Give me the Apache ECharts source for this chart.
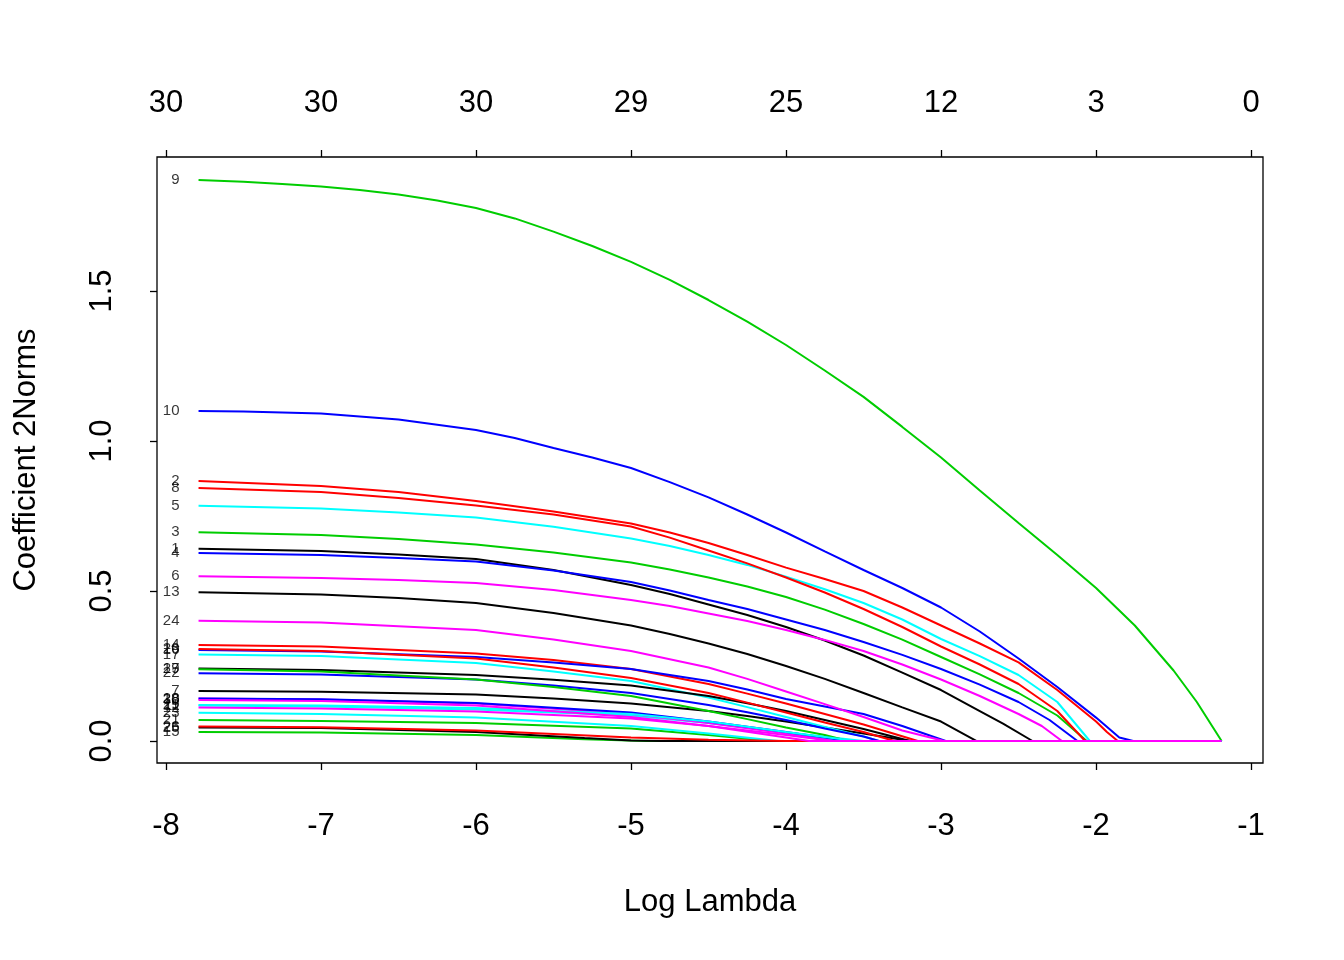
<!DOCTYPE html>
<html>
<head>
<meta charset="utf-8">
<script src="https://cdn.jsdelivr.net/npm/echarts@6/dist/echarts.min.js"></script>
<style>html,body{margin:0;padding:0;background:#fff}#chart{width:1344px;height:960px}</style>
</head>
<body>
<div id="chart"></div>
<script>
// x-axis ticks (log lambda) and top-axis degrees of freedom
const xTicks = [-8, -7, -6, -5, -4, -3, -2, -1];
const dfLabels = ['30', '30', '30', '29', '25', '12', '3', '0'];
const yTicks = [0, 0.5, 1.0, 1.5];
const palette = ['#000000', '#FF0000', '#00CD00', '#0000FF', '#00FFFF', '#FF00FF'];

// coefficient 2-norm paths: [log lambda, norm]
const v1 = [[-7.79,0.641],[-7,0.633],[-6.5,0.622],[-6,0.607],[-5.5,0.57],[-5,0.52],[-4.75,0.49],[-4.5,0.455],[-4.25,0.42],[-4,0.38],[-3.75,0.335],[-3.5,0.285],[-3.25,0.228],[-3,0.17],[-2.75,0.1],[-2.6,0.058],[-2.41,0],[-1.19,0]];
const v2 = [[-7.79,0.867],[-7,0.85],[-6.5,0.83],[-6,0.80],[-5.5,0.765],[-5,0.725],[-4.75,0.695],[-4.5,0.66],[-4.25,0.62],[-4,0.578],[-3.75,0.54],[-3.5,0.5],[-3.25,0.445],[-3,0.385],[-2.75,0.325],[-2.5,0.262],[-2.25,0.17],[-2,0.065],[-1.93,0.03],[-1.86,0],[-1.19,0]];
const v3 = [[-7.79,0.696],[-7,0.687],[-6.5,0.673],[-6,0.655],[-5.5,0.628],[-5,0.595],[-4.75,0.572],[-4.5,0.545],[-4.25,0.515],[-4,0.48],[-3.75,0.438],[-3.5,0.39],[-3.25,0.338],[-3,0.28],[-2.75,0.222],[-2.5,0.16],[-2.25,0.085],[-2.06,0],[-1.19,0]];
const v4 = [[-7.79,0.627],[-7,0.62],[-6.5,0.61],[-6,0.598],[-5.5,0.568],[-5,0.53],[-4.75,0.502],[-4.5,0.47],[-4.25,0.44],[-4,0.405],[-3.75,0.37],[-3.5,0.33],[-3.25,0.287],[-3,0.24],[-2.75,0.188],[-2.5,0.13],[-2.3,0.07],[-2.12,0],[-1.19,0]];
const v5 = [[-7.79,0.784],[-7,0.775],[-6.5,0.762],[-6,0.745],[-5.5,0.714],[-5,0.675],[-4.75,0.65],[-4.5,0.62],[-4.25,0.587],[-4,0.548],[-3.75,0.506],[-3.5,0.46],[-3.25,0.405],[-3,0.34],[-2.75,0.283],[-2.5,0.22],[-2.25,0.13],[-2.04,0],[-1.19,0]];
const v6 = [[-7.79,0.549],[-7,0.543],[-6.5,0.537],[-6,0.527],[-5.5,0.503],[-5,0.47],[-4.75,0.45],[-4.5,0.425],[-4.25,0.4],[-4,0.37],[-3.75,0.337],[-3.5,0.3],[-3.25,0.255],[-3,0.205],[-2.75,0.15],[-2.5,0.09],[-2.35,0.05],[-2.22,0],[-1.19,0]];
const v7 = [[-7.79,0.167],[-7,0.164],[-6,0.155],[-5.5,0.142],[-5,0.125],[-4.5,0.1],[-4.25,0.083],[-4,0.065],[-3.75,0.045],[-3.5,0.025],[-3.2,0],[-1.19,0]];
const v8 = [[-7.79,0.843],[-7,0.83],[-6.5,0.81],[-6,0.785],[-5.5,0.755],[-5,0.715],[-4.75,0.678],[-4.5,0.635],[-4.25,0.592],[-4,0.545],[-3.75,0.495],[-3.5,0.44],[-3.25,0.38],[-3,0.315],[-2.75,0.255],[-2.5,0.19],[-2.25,0.1],[-2.07,0],[-1.19,0]];
const v9 = [[-7.79,1.87],[-7.5,1.864],[-7.25,1.857],[-7,1.848],[-6.75,1.837],[-6.5,1.822],[-6.25,1.802],[-6,1.777],[-5.75,1.742],[-5.5,1.698],[-5.25,1.65],[-5,1.597],[-4.75,1.537],[-4.5,1.47],[-4.25,1.398],[-4,1.32],[-3.75,1.235],[-3.5,1.147],[-3.25,1.047],[-3,0.945],[-2.75,0.835],[-2.5,0.727],[-2.25,0.62],[-2,0.51],[-1.75,0.385],[-1.5,0.235],[-1.35,0.13],[-1.19,0]];
const v10 = [[-7.79,1.10],[-7.5,1.098],[-7,1.092],[-6.5,1.072],[-6,1.037],[-5.75,1.01],[-5.5,0.977],[-5.25,0.945],[-5,0.91],[-4.75,0.863],[-4.5,0.812],[-4.25,0.755],[-4,0.695],[-3.75,0.632],[-3.5,0.57],[-3.25,0.51],[-3,0.445],[-2.75,0.365],[-2.5,0.275],[-2.25,0.18],[-2,0.078],[-1.85,0.012],[-1.76,0],[-1.19,0]];
const v11 = [[-7.79,0.118],[-7,0.115],[-6,0.105],[-5,0.085],[-4.5,0.06],[-4,0.028],[-3.5,0],[-1.19,0]];
const v12 = [[-7.79,0.112],[-7,0.108],[-6,0.098],[-5,0.075],[-4.5,0.05],[-4,0.02],[-3.7,0],[-1.19,0]];
const v13 = [[-7.79,0.496],[-7,0.488],[-6.5,0.477],[-6,0.46],[-5.5,0.427],[-5,0.385],[-4.75,0.357],[-4.5,0.325],[-4.25,0.29],[-4,0.25],[-3.75,0.207],[-3.5,0.16],[-3.25,0.112],[-3,0.065],[-2.77,0],[-1.19,0]];
const v14 = [[-7.79,0.32],[-7,0.315],[-6,0.292],[-5.5,0.27],[-5,0.24],[-4.5,0.19],[-4.25,0.158],[-4,0.125],[-3.75,0.09],[-3.5,0.055],[-3.15,0],[-1.19,0]];
const v15 = [[-7.79,0.03],[-7,0.028],[-6,0.02],[-5.3,0.006],[-4.9,0],[-1.19,0]];
const v16 = [[-7.79,0.303],[-7,0.298],[-6,0.28],[-5.5,0.262],[-5,0.24],[-4.5,0.2],[-4.25,0.172],[-4,0.14],[-3.75,0.115],[-3.5,0.09],[-3.25,0.05],[-2.97,0],[-1.19,0]];
const v17 = [[-7.79,0.288],[-7,0.283],[-6,0.26],[-5.5,0.232],[-5,0.2],[-4.5,0.145],[-4.25,0.113],[-4,0.08],[-3.75,0.047],[-3.5,0.015],[-3.4,0],[-1.19,0]];
const v18 = [[-7.79,0.142],[-7,0.138],[-6,0.125],[-5,0.09],[-4.5,0.06],[-4,0.025],[-3.7,0],[-1.19,0]];
const v19 = [[-7.79,0.242],[-7,0.237],[-6,0.22],[-5.5,0.204],[-5,0.185],[-4.5,0.15],[-4.25,0.126],[-4,0.1],[-3.75,0.07],[-3.5,0.04],[-3.2,0],[-1.19,0]];
const v20 = [[-7.79,0.307],[-7,0.3],[-6,0.275],[-5.5,0.245],[-5,0.21],[-4.5,0.16],[-4.25,0.128],[-4,0.095],[-3.75,0.062],[-3.5,0.03],[-3.3,0],[-1.19,0]];
const v21 = [[-7.79,0.07],[-7,0.067],[-6,0.06],[-5,0.042],[-4.5,0.02],[-4.1,0],[-1.19,0]];
const v22 = [[-7.79,0.226],[-7,0.222],[-6,0.205],[-5.5,0.185],[-5,0.16],[-4.5,0.12],[-4.25,0.096],[-4,0.07],[-3.75,0.042],[-3.5,0.015],[-3.4,0],[-1.19,0]];
const v23 = [[-7.79,0.094],[-7,0.09],[-6,0.078],[-5,0.05],[-4.5,0.025],[-4.05,0],[-1.19,0]];
const v24 = [[-7.79,0.401],[-7,0.395],[-6,0.37],[-5.5,0.338],[-5,0.3],[-4.5,0.245],[-4.25,0.207],[-4,0.165],[-3.75,0.123],[-3.5,0.08],[-3.25,0.035],[-2.98,0],[-1.19,0]];
const v25 = [[-7.79,0.045],[-7,0.043],[-6,0.03],[-5.3,0.01],[-5,0.002],[-4.8,0],[-1.19,0]];
const v26 = [[-7.79,0.048],[-7,0.046],[-6,0.035],[-5,0.012],[-4.5,0.004],[-4,0],[-1.19,0]];
const v27 = [[-7.79,0.239],[-7,0.232],[-6,0.205],[-5.5,0.18],[-5,0.15],[-4.5,0.1],[-4.25,0.073],[-4,0.045],[-3.75,0.02],[-3.6,0],[-1.19,0]];
const v28 = [[-7.79,0.142],[-7,0.139],[-6,0.127],[-5,0.095],[-4.5,0.065],[-4,0.03],[-3.6,0],[-1.19,0]];
const v29 = [[-7.79,0.12],[-7,0.118],[-6,0.11],[-5,0.09],[-4.5,0.065],[-4,0.03],[-3.55,0],[-1.19,0]];
const v30 = [[-7.79,0.137],[-7,0.133],[-6,0.118],[-5,0.08],[-4.5,0.05],[-4,0.012],[-3.85,0],[-1.19,0]];

const paths = [v1,v2,v3,v4,v5,v6,v7,v8,v9,v10,v11,v12,v13,v14,v15,v16,v17,v18,v19,v20,v21,v22,v23,v24,v25,v26,v27,v28,v29,v30];

const FONT = 'Liberation Sans, Arial, Helvetica, sans-serif';
const chart = echarts.init(document.getElementById('chart'), null, {renderer: 'canvas'});

const lineSeries = paths.map((p, i) => ({
  type: 'line',
  name: String(i + 1),
  data: p,
  showSymbol: false,
  symbol: 'none',
  smooth: false,
  clip: true,
  lineStyle: {color: palette[i % 6], width: 2},
  z: 2,
  silent: true,
  animation: false
}));

const labelSeries = {
  type: 'scatter',
  symbolSize: 0,
  silent: true,
  animation: false,
  data: paths.map((p, i) => ({value: p[0], name: String(i + 1)})),
  label: {
    show: true,
    position: 'left',
    distance: 19,
    formatter: (d) => d.name,
    color: '#000',
    fontSize: 15,
    fontFamily: FONT
  },
  z: 3
};

const tickStyle = {show: true, length: 7, lineStyle: {color: '#000', width: 1.3}};

chart.setOption({
  backgroundColor: '#ffffff',
  animation: false,
  grid: {left: 157, right: 81, top: 157, bottom: 197, show: true, borderColor: '#000', borderWidth: 1.3, backgroundColor: 'transparent'},
  xAxis: [
    {
      type: 'value', position: 'bottom', min: -8.058, max: -0.923,
      axisLine: {show: false, onZero: false},
      splitLine: {show: false},
      axisTick: Object.assign({customValues: xTicks}, tickStyle),
      axisLabel: {customValues: xTicks, margin: 48, color: '#000', fontSize: 31, fontFamily: FONT, formatter: (v) => String(v)},
      name: 'Log Lambda', nameLocation: 'middle', nameGap: 124,
      nameTextStyle: {color: '#000', fontSize: 31, fontFamily: FONT}
    },
    {
      type: 'value', position: 'top', min: -8.058, max: -0.923,
      axisLine: {show: false, onZero: false},
      splitLine: {show: false},
      axisTick: Object.assign({customValues: xTicks}, tickStyle),
      axisLabel: {customValues: xTicks, margin: 38, color: '#000', fontSize: 31, fontFamily: FONT,
        formatter: (v) => { const k = xTicks.findIndex(t => Math.abs(t - v) < 1e-6); return k >= 0 ? dfLabels[k] : ''; }}
    }
  ],
  yAxis: {
    type: 'value', min: -0.0733, max: 1.9467,
    axisLine: {show: false, onZero: false},
    splitLine: {show: false},
    axisTick: Object.assign({customValues: yTicks}, tickStyle),
    axisLabel: {customValues: yTicks, rotate: 90, margin: 39, color: '#000', fontSize: 31, fontFamily: FONT, formatter: (v) => v.toFixed(1)},
    name: 'Coefficient 2Norms', nameLocation: 'middle', nameGap: 115,
    nameTextStyle: {color: '#000', fontSize: 31, fontFamily: FONT}
  },
  series: lineSeries.concat([labelSeries])
});
</script>
</body>
</html>
